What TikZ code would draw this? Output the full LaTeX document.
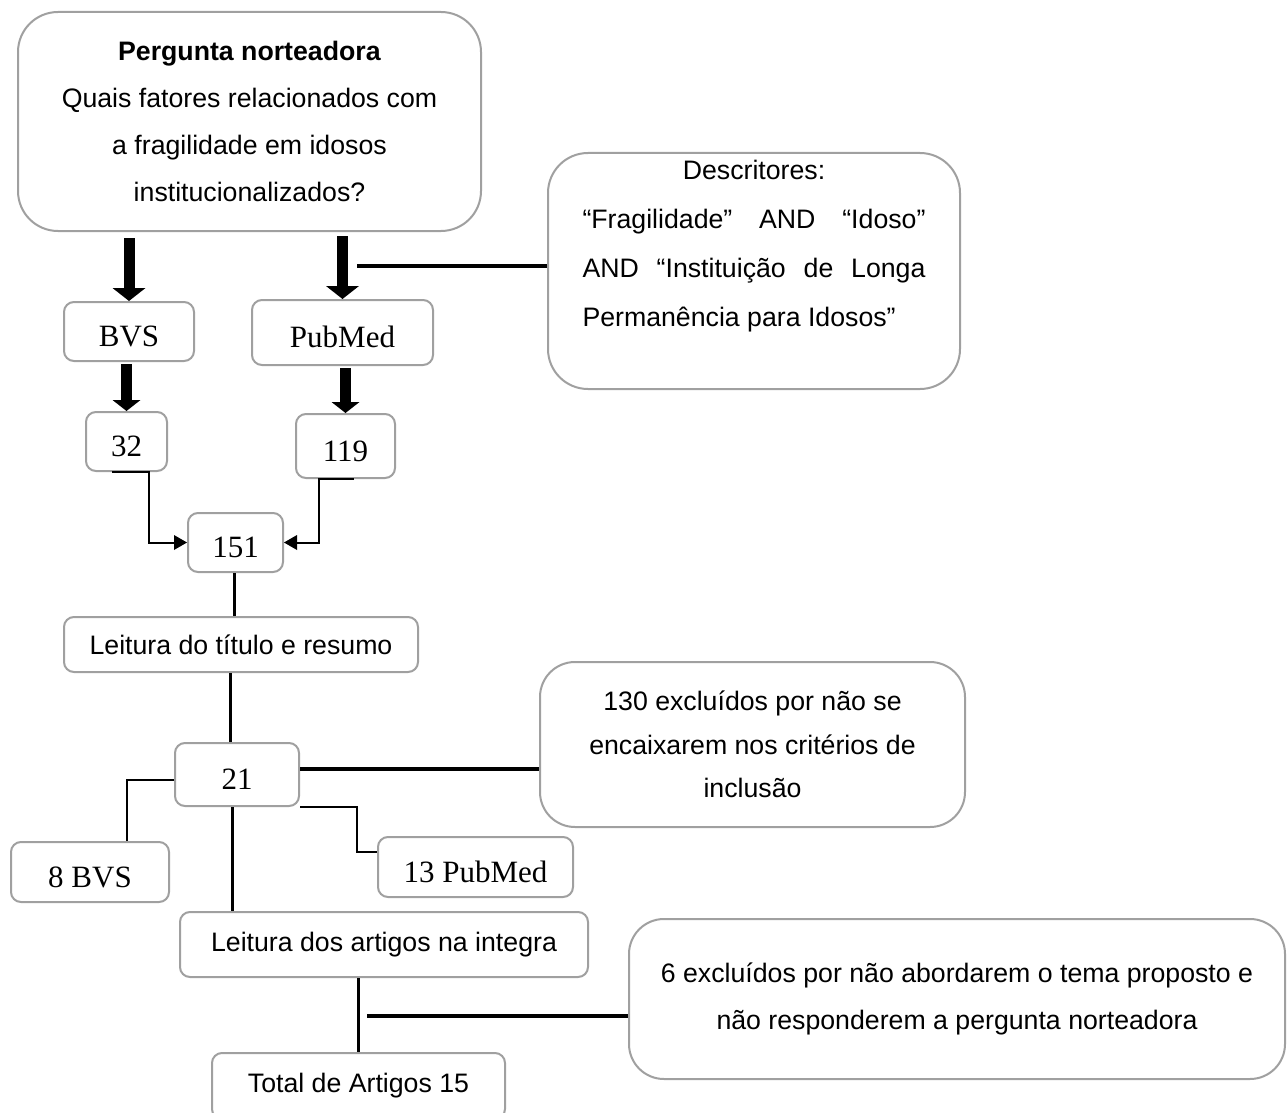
\documentclass[tikz,border=0pt]{standalone}
\usepackage{fontspec}
\setmainfont{Liberation Sans}
\newfontfamily\tms{Liberation Serif}
\usetikzlibrary{arrows.meta,calc}
\definecolor{boxgray}{RGB}{160,160,160}
\begin{document}
\begin{tikzpicture}[x=1pt,y=-1pt,
  box/.style={draw=boxgray,line width=2pt,fill=white,inner sep=0pt,align=center},
  big/.style={box,rounded corners=40pt},
  small/.style={box,rounded corners=10pt},
  sans/.style={font=\fontsize{26.7}{47}\selectfont},
  serif/.style={font=\tms\fontsize{31}{36}\selectfont,text height=30pt,text depth=0pt},
  fat/.style={line width=11pt,-{Triangle[length=13pt 0 0,width=33pt 0 0,line width=0pt]}},
  fatb/.style={line width=11pt,-{Triangle[length=11pt 0 0,width=28pt 0 0,line width=0pt]}},
  thinarr/.style={line width=2pt,-{Triangle[length=13pt 0 0,width=15pt 0 0,line width=0pt]}},
  vline/.style={line width=3pt},
  hline/.style={line width=4pt},
  elbow/.style={line width=2.5pt}]
\clip (0,0) rectangle (1288,1113);
\fill[white] (0,0) rectangle (1288,1113);

% nodes
\node[big,sans,minimum width=463pt,minimum height=219pt] (top) at (249.5,121.5)
  {\textbf{Pergunta norteadora}\\Quais fatores relacionados com\\a fragilidade em idosos\\institucionalizados?};
\node[big,font=\fontsize{26.7}{49}\selectfont,minimum width=412pt,minimum height=236pt] (desc) at (754,271)
  {Descritores:\\\makebox[343pt]{“Fragilidade”\hfill AND\hfill “Idoso”}\\\makebox[343pt]{AND\hfill “Instituição\hfill de\hfill Longa}\\\makebox[343pt][l]{Permanência para Idosos”}\\[6pt]\mbox{}};
\node[small,serif,minimum width=130pt,minimum height=59pt] (bvs) at (129,331.5) {BVS};
\node[small,serif,minimum width=181pt,minimum height=65pt] (pub) at (342.5,332.5) {PubMed};
\node[small,serif,minimum width=81pt,minimum height=59pt] (n32) at (126.5,441.5) {32};
\node[small,serif,minimum width=99pt,minimum height=64pt] (n119) at (345.5,446) {119};
\node[small,serif,minimum width=95pt,minimum height=59pt] (n151) at (235.5,542.5) {151};
\node[small,sans,minimum width=354pt,minimum height=55pt] (ltr) at (241,644.5) {Leitura do título e resumo};
\node[small,serif,minimum width=124pt,minimum height=63pt] (n21) at (237,774.5) {21};
\node[big,font=\fontsize{26.7}{43.5}\selectfont,rounded corners=35pt,minimum width=425pt,minimum height=165pt] (exc130) at (752.5,744.5)
  {130 excluídos por não se\\encaixarem nos critérios de\\inclusão};
\node[small,serif,minimum width=158pt,minimum height=60pt] (b8) at (90,872) {8 BVS};
\node[small,serif,minimum width=195pt,minimum height=60pt] (p13) at (475.5,867) {13 PubMed};
\node[small,sans,minimum width=408pt,minimum height=65pt] (lart) at (384,944.5) {Leitura dos artigos na integra};
\node[big,sans,rounded corners=35pt,minimum width=656pt,minimum height=160pt] (exc6) at (957,999)
  {6 excluídos por não abordarem o tema proposto e\\não responderem a pergunta norteadora};
\node[small,sans,minimum width=293pt,minimum height=66pt] (total) at (358.5,1086) {Total de Artigos 15};

% connectors
\draw[fat,shorten <=6pt] (bvs.north |- top.south) -- (bvs.north);
\draw[fat,shorten <=4pt] (pub.north |- top.south) -- (pub.north);
\coordinate (dj) at (357,266);
\draw[hline] (dj) -- (dj -| desc.west);
\draw[fatb,shorten <=2pt] (n32.north |- bvs.south) -- (n32.north);
\draw[fatb,shorten <=2pt] (n119.north |- pub.south) -- (n119.north);
\draw[thinarr] ([xshift=-14.5pt]n32.south) -- ([xshift=22.5pt]n32.south) |- (n151.west);
\draw[thinarr] ([xshift=8.5pt]n119.south) -- ([xshift=-26.5pt]n119.south) |- (n151.east);
\draw[vline] ([xshift=-1.5pt]n151.south) -- ([xshift=-1.5pt]n151.south |- ltr.north);
\draw[vline] ([xshift=-7pt]n21.north |- ltr.south) -- ([xshift=-7pt]n21.north);
\draw[hline] ([yshift=5.5pt]n21.east) coordinate (a21) -- (a21 -| exc130.west);
\draw[elbow] ([yshift=-5.5pt]n21.west) -| ([xshift=37pt]b8.north);
\draw[elbow] (n21.south east) -- ++(57,0) |- ([yshift=15pt]p13.west);
\draw[vline] ([xshift=-5pt]n21.south) -- ([xshift=-5pt]n21.south |- lart.north);
\draw[vline] (total.north |- lart.south) -- (total.north);
\coordinate (j6) at (367,1016);
\draw[hline] (j6) -- (j6 -| exc6.west);
\end{tikzpicture}
\end{document}
